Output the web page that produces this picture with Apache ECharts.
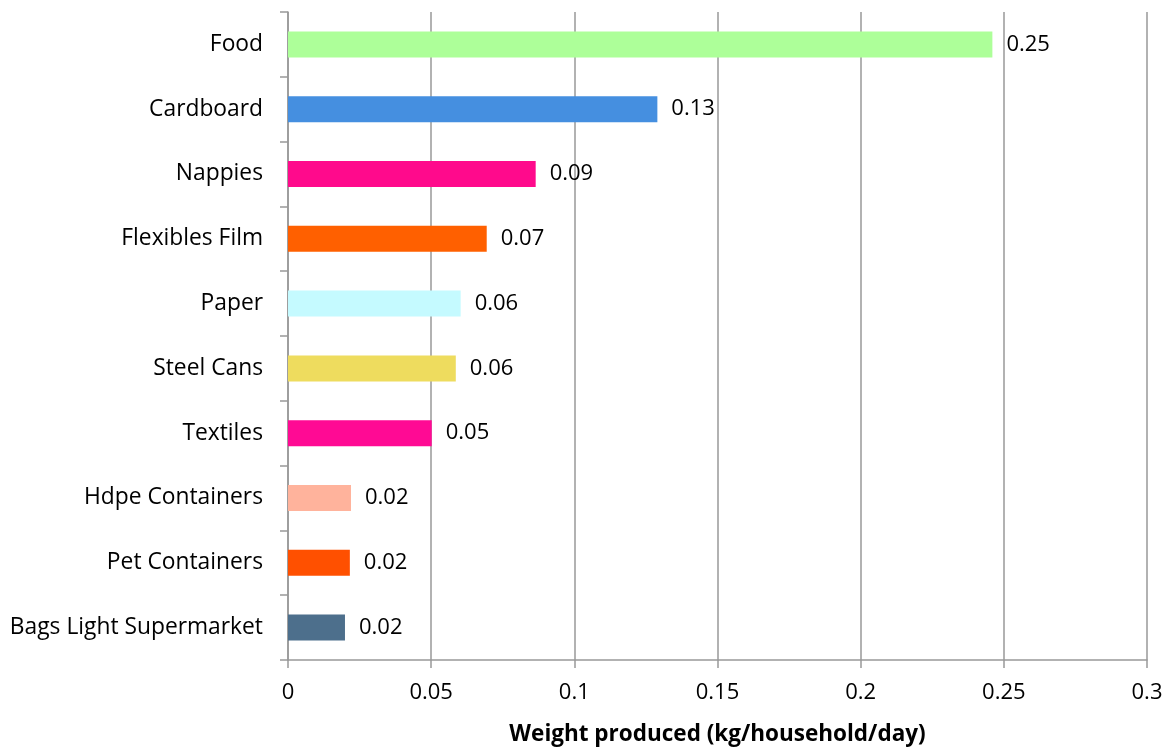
<!DOCTYPE html>
<html>
<head>
<meta charset="utf-8">
<script src="https://cdn.jsdelivr.net/npm/echarts@6/dist/echarts.min.js"></script>
<style>
  html, body { margin: 0; padding: 0; background: #fff; }
  #chart { width: 1168px; height: 749px; }
</style>
</head>
<body>
<div id="chart"></div>
<script>
// Household waste streams, top to bottom
const categories = [
  'Food', 'Cardboard', 'Nappies', 'Flexibles Film', 'Paper',
  'Steel Cans', 'Textiles', 'Hdpe Containers', 'Pet Containers', 'Bags Light Supermarket'
];
// Weight produced per household per day (kg)
const weights = [0.246, 0.129, 0.0865, 0.0694, 0.0603, 0.0586, 0.0502, 0.0220, 0.0216, 0.0199];
const barColors = [
  '#adff99', '#458fe0', '#ff0a8c', '#ff6000', '#c5faff',
  '#eedc5e', '#ff0a94', '#ffb39c', '#ff5000', '#4d6f8c'
];
const xTicks = [0, 0.05, 0.1, 0.15, 0.2, 0.25, 0.3];

const FONT = '"Open Sans", sans-serif';
const chart = echarts.init(document.getElementById('chart'));
chart.setOption({
  animation: false,
  grid: { left: 288, right: 21, top: 12, bottom: 89, containLabel: false, outerBoundsMode: 'none' },
  xAxis: {
    type: 'value',
    min: 0,
    max: 0.3,
    interval: 0.05,
    name: 'Weight produced (kg/household/day)',
    nameLocation: 'middle',
    nameGap: 63,
    nameTextStyle: { fontFamily: FONT, fontSize: 22.5, fontWeight: 'bold', color: '#000' },
    axisLine: { show: true, lineStyle: { color: '#999', width: 1.5 } },
    axisTick: { show: true, length: 8, lineStyle: { color: '#999', width: 1.5 } },
    axisLabel: {
      fontFamily: FONT, fontSize: 22, color: '#000', margin: 22,
      formatter: v => {
        const hit = xTicks.find(t => Math.abs(t - v) < 1e-9);
        return hit === undefined ? '' : String(hit);
      }
    },
    splitLine: { show: true, lineStyle: { color: '#999', width: 1.5 } }
  },
  yAxis: {
    type: 'category',
    data: categories,
    inverse: true,
    axisLine: { show: true, lineStyle: { color: '#999', width: 1.5 } },
    axisTick: { show: true, length: 8, inside: false, lineStyle: { color: '#999', width: 1.5 } },
    axisLabel: { fontFamily: FONT, fontSize: 22.8, color: '#000', margin: 25 },
    splitLine: { show: false }
  },
  series: [{
    type: 'bar',
    data: weights.map((v, i) => ({ value: v, itemStyle: { color: barColors[i] } })),
    barWidth: 26,
    label: {
      show: true,
      position: 'right',
      distance: 14,
      fontFamily: FONT,
      fontSize: 22,
      color: '#000',
      formatter: p => p.value.toFixed(2)
    }
  }]
});
</script>
</body>
</html>
